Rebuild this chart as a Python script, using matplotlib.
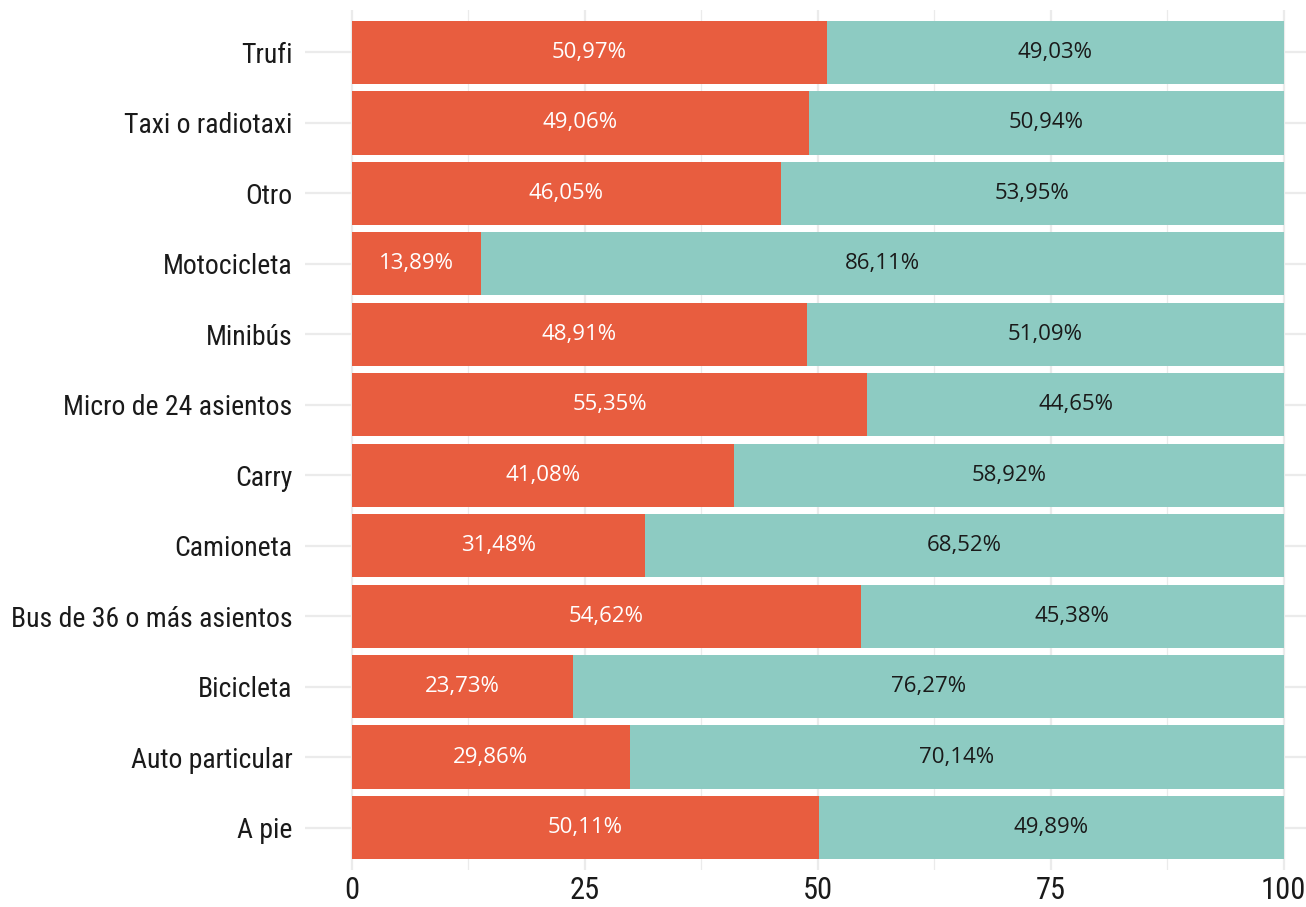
import matplotlib
matplotlib.use("Agg")
import matplotlib.pyplot as plt
from matplotlib import font_manager as fm
from matplotlib.ticker import FixedLocator

categories = ["A pie", "Auto particular", "Bicicleta", "Bus de 36 o más asientos",
              "Camioneta", "Carry", "Micro de 24 asientos", "Minibús",
              "Motocicleta", "Otro", "Taxi o radiotaxi", "Trufi"]
mujeres = [50.11, 29.86, 23.73, 54.62, 31.48, 41.08, 55.35, 48.91, 13.89, 46.05, 49.06, 50.97]
hombres = [49.89, 70.14, 76.27, 45.38, 68.52, 58.92, 44.65, 51.09, 86.11, 53.95, 50.94, 49.03]
x_ticks = [0, 25, 50, 75, 100]

names = {f.name for f in fm.fontManager.ttflist}
cond = None
for cand in ["Liberation Sans Narrow", "DejaVu Sans Condensed", "Roboto Condensed", "Open Sans Condensed"]:
    if cand in names:
        cond = cand
        break
if cond is None:
    cond = "DejaVu Sans"
val_font = "Open Sans" if "Open Sans" in names else "DejaVu Sans"

orange = "#E85D3F"
teal = "#8DCBC2"
grid_c = "#EBEBEB"

fig = plt.figure(figsize=(13.06, 9.07), dpi=100)
ax = fig.add_axes([305/1306, 1 - 870/907, 1 - 305/1306, (870 - 10)/907])

y = list(range(len(categories)))
ax.barh(y, mujeres, height=0.9, color=orange, zorder=3)
ax.barh(y, hombres, left=mujeres, height=0.9, color=teal, zorder=3)

for yi, m, h in zip(y, mujeres, hombres):
    ax.text(m / 2, yi, f"{m:.2f}%".replace(".", ","), ha="center", va="center",
            color="white", fontsize=16, family=val_font, zorder=4)
    ax.text(m + h / 2, yi, f"{h:.2f}%".replace(".", ","), ha="center", va="center",
            color="#1a1a1a", fontsize=16, family=val_font, zorder=4)

ax.set_xlim(-5, 102.4)
ax.set_ylim(-0.6, len(categories) - 0.4)
ax.set_yticks(y)
ax.set_yticklabels(categories)
ax.set_xticks(x_ticks)
ax.set_xticklabels([str(t) for t in x_ticks])
ax.xaxis.set_minor_locator(FixedLocator([12.5, 37.5, 62.5, 87.5]))

for lab in ax.get_yticklabels():
    lab.set_family(cond)
    lab.set_fontsize(20)
    lab.set_color("#1a1a1a")
for lab in ax.get_xticklabels():
    lab.set_family(cond)
    lab.set_fontsize(22)
    lab.set_color("#1a1a1a")

ax.tick_params(axis="both", which="both", length=0)
ax.tick_params(axis="y", pad=9)
ax.tick_params(axis="x", pad=4)
ax.grid(True, which="major", color=grid_c, linewidth=1.6, zorder=0)
ax.grid(True, which="minor", axis="x", color=grid_c, linewidth=0.9, zorder=0)
ax.set_axisbelow(True)
for s in ax.spines.values():
    s.set_visible(False)

fig.savefig("out.png", dpi=100)
